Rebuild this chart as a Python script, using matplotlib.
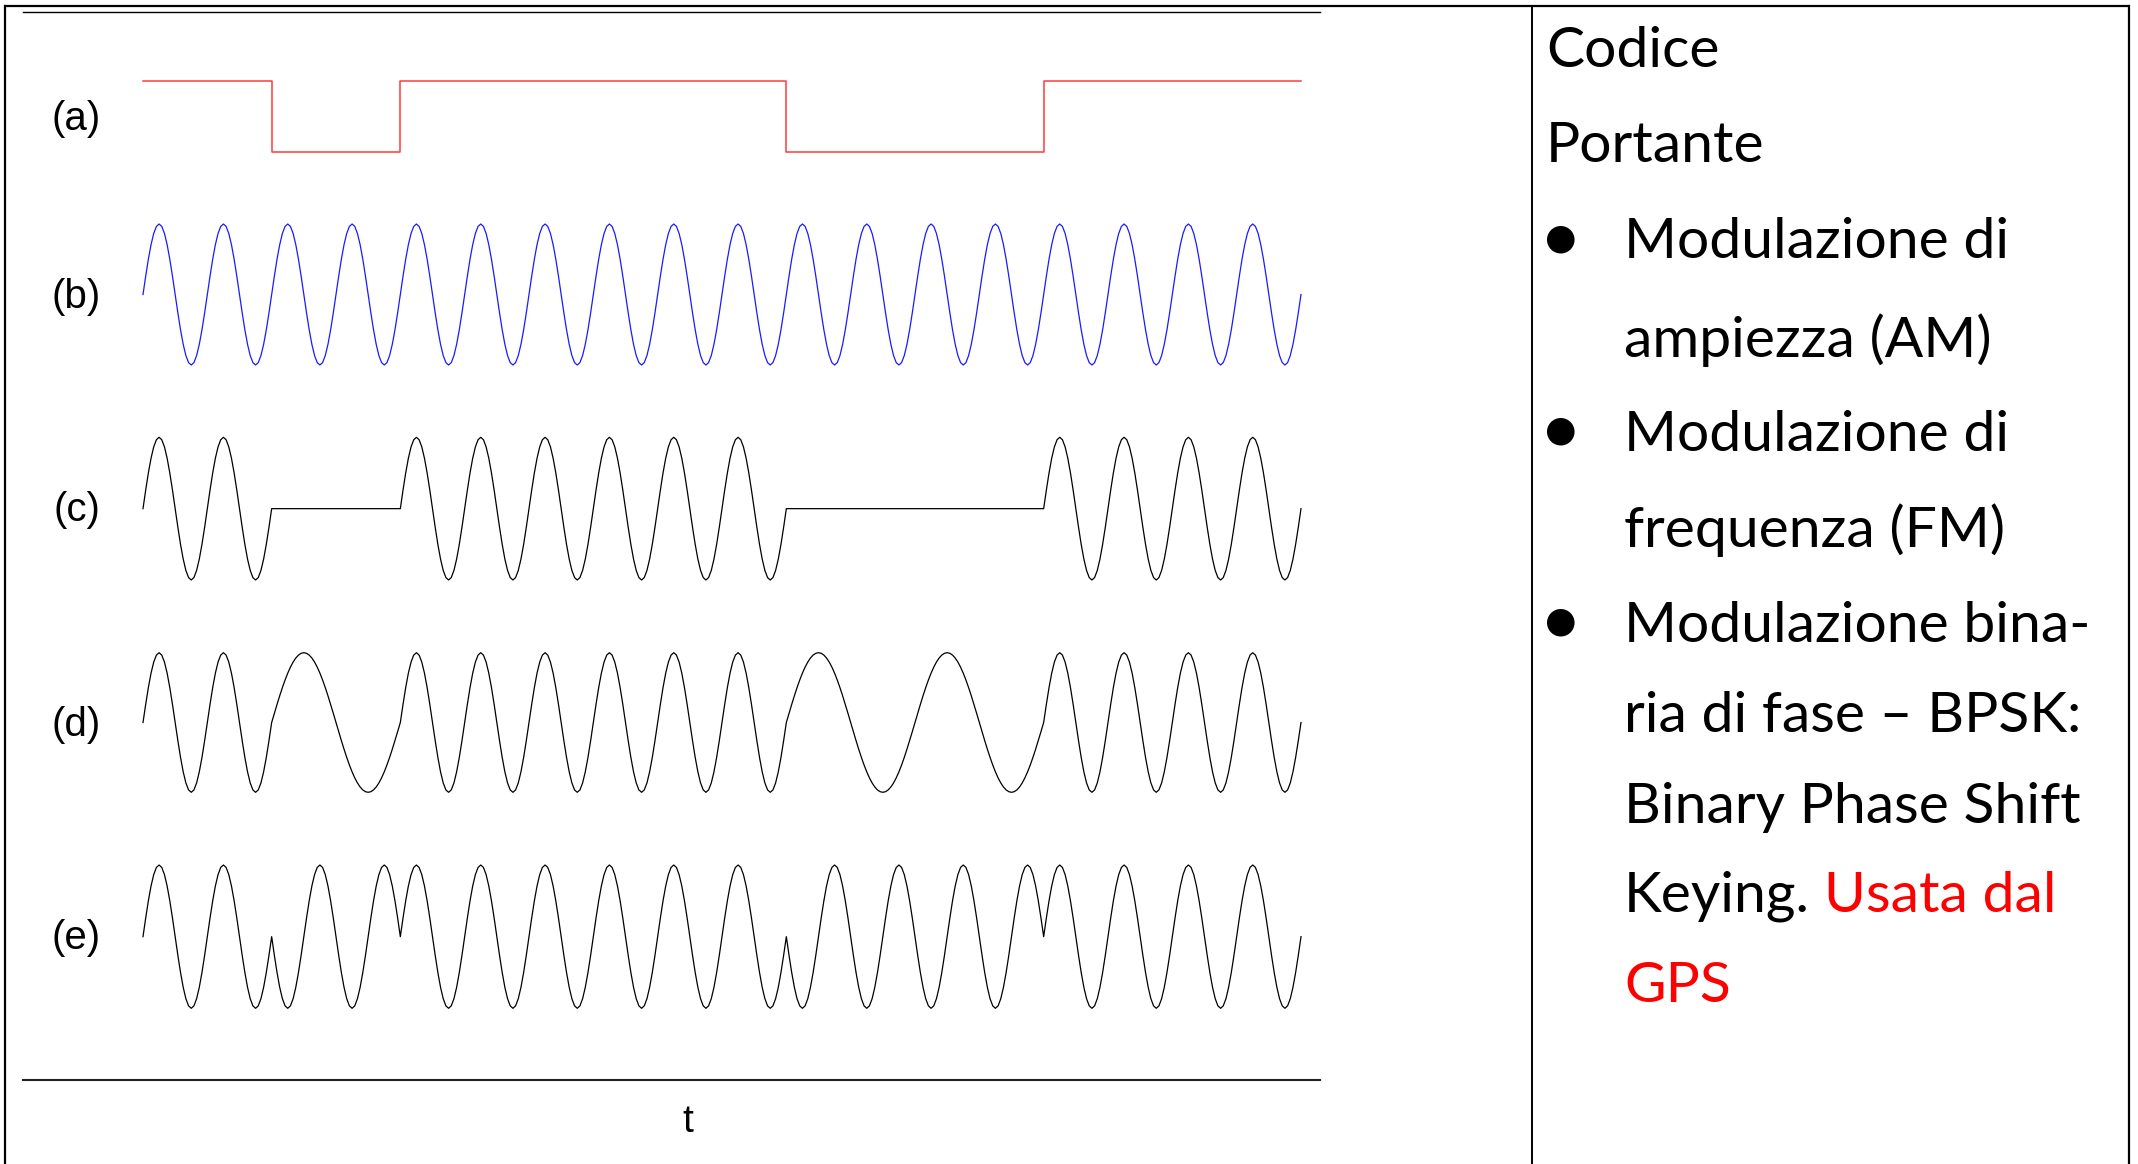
"""
Digital modulation schemes: code, carrier, AM, FM, BPSK (with notes on the right)
"""
import numpy as np
import matplotlib
matplotlib.use("Agg")
import matplotlib.pyplot as plt

# ---- data ----
code_bits = [1, 0, 1, 1, 1, 0, 0, 1, 1]      # (a) the code, one value per bit
cycles_per_bit = 2                           # carrier cycles inside one bit
fm_ratio_zero = 0.5                          # FM: frequency used for a 0 bit
samples_per_cycle = 24

panel_labels = ["(a)", "(b)", "(c)", "(d)", "(e)"]
axis_label = "t"

notes_plain = ["Codice", "Portante"]
notes_bullets = [
    ["Modulazione di", "ampiezza (AM)"],
    ["Modulazione di", "frequenza (FM)"],
    ["Modulazione bina-", "ria di fase \u2013 BPSK:", "Binary Phase Shift", "Keying."],
]
notes_red = ["Usata dal", "GPS"]

# ---- layout (pixels of the 2138x1164 canvas) ----
W, H = 2138, 1164
X0, X1 = 143, 1301
panel_rows = [(80.7, 152.3), (224, 365), (437.3, 580), (652.7, 792.3), (865, 1008.3)]
label_y = [118.6, 297, 510, 725, 938]
line_baselines = [66.7, 161.7, 258.3, 357.3, 450.7, 546.7, 641.7, 731.7, 823, 911.7, 1001.7]

TEXT_FONT = ["Lato", "DejaVu Sans"]
LABEL_FONT = ["Liberation Sans", "DejaVu Sans"]


def px_axes(fig, x0, y0, x1, y1):
    ax = fig.add_axes([x0 / W, 1 - y1 / H, (x1 - x0) / W, (y1 - y0) / H])
    ax.set_facecolor("none")
    ax.axis("off")
    return ax


def build_signals():
    n_cycles = len(code_bits) * cycles_per_bit
    t = np.linspace(0, n_cycles, n_cycles * samples_per_cycle + 1)
    idx = np.minimum((t // cycles_per_bit).astype(int), len(code_bits) - 1)
    bits = np.array(code_bits)[idx]

    carrier = np.sin(2 * np.pi * t)
    am = carrier * bits
    freq = np.where(bits == 1, 1.0, fm_ratio_zero)
    phase = np.concatenate([[0], np.cumsum(freq[:-1] * np.diff(t))])
    fm = np.sin(2 * np.pi * phase)
    bpsk = carrier * (2 * bits - 1)
    return t, carrier, am, fm, bpsk, n_cycles


def main():
    fig = plt.figure(figsize=(W / 100, H / 100), dpi=100)
    fig.patch.set_facecolor("white")

    # overlay in pixel coordinates for the frame and the text
    ov = fig.add_axes([0, 0, 1, 1])
    ov.set_xlim(0, W)
    ov.set_ylim(H, 0)
    ov.axis("off")

    # table frame
    ov.plot([4, 2130], [5.7, 5.7], color="black", lw=1.6, solid_capstyle="butt")
    ov.plot([5, 5], [5.7, H], color="black", lw=1.6)
    ov.plot([1532, 1532], [5.7, H], color="black", lw=1.4)
    ov.plot([2129, 2129], [5.7, H], color="black", lw=1.6)
    # plot box top / bottom
    ov.plot([22.7, 1320], [12.3, 12.3], color="black", lw=1.0)
    ov.plot([22.7, 1320], [1080, 1080], color="#222222", lw=1.5)

    t, carrier, am, fm, bpsk, n_cycles = build_signals()

    # (a) code as a square wave
    ax = px_axes(fig, X0, panel_rows[0][0], X1, panel_rows[0][1])
    edges = np.arange(0, n_cycles + 1, cycles_per_bit)
    ax.step(edges, list(code_bits) + [code_bits[-1]], where="post",
            color="#ff3b3b", lw=1.1, clip_on=False)
    ax.set_xlim(0, n_cycles)
    ax.set_ylim(0, 1)

    waves = [(carrier, "#1a1aff"), (am, "black"), (fm, "black"), (bpsk, "black")]
    for (y0, y1), (sig, col) in zip(panel_rows[1:], waves):
        ax = px_axes(fig, X0, y0, X1, y1)
        ax.plot(t, sig, color=col, lw=0.9, clip_on=False)
        ax.set_xlim(0, n_cycles)
        ax.set_ylim(-1, 1)

    for lab, y in zip(panel_labels, label_y):
        ov.text(76.5, y, lab, ha="center", va="center", fontsize=29,
                family=LABEL_FONT, color="black")
    ov.text(688, 1132, axis_label, ha="center", va="baseline", fontsize=28,
            family=LABEL_FONT, color="black")

    # right column notes
    fs = 41
    k = 0
    for line in notes_plain:
        ov.text(1546, line_baselines[k], line, ha="left", va="baseline",
                fontsize=fs, family=TEXT_FONT, color="black")
        k += 1
    last = None
    for group in notes_bullets:
        ov.text(1560.5, line_baselines[k] - 20, "\u25CF", ha="center", va="center",
                fontsize=26, family=["DejaVu Sans"], color="black")
        for line in group:
            last = ov.text(1624, line_baselines[k], line, ha="left", va="baseline",
                           fontsize=fs, family=TEXT_FONT, color="black")
            k += 1
    # red remark continues on the last line, then wraps
    ov.annotate(notes_red[0], xy=(1, 0), xycoords=last, xytext=(14, 0),
                textcoords="offset pixels", ha="left", va="bottom",
                fontsize=fs, family=TEXT_FONT, color="#ff0000")
    ov.text(1624, line_baselines[k], notes_red[1], ha="left", va="baseline",
            fontsize=fs, family=TEXT_FONT, color="#ff0000")

    fig.savefig("out.png", dpi=100, facecolor="white")


if __name__ == "__main__":
    main()
